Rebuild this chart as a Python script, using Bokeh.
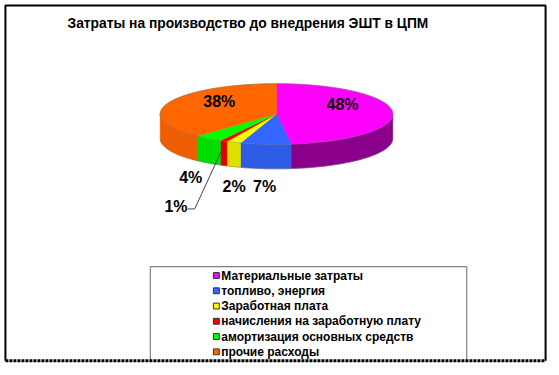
import numpy as np
from bokeh.plotting import figure
from bokeh.models import Range1d
from bokeh.core.properties import value
from bokeh.embed import file_html
from bokeh.resources import INLINE

# ---- data ----
title = "Затраты на производство до внедрения ЭШТ в ЦПМ"
categories = [
    "Материальные затраты",
    "топливо, энергия",
    "Заработная плата",
    "начисления на заработную плату",
    "амортизация основных средств",
    "прочие расходы",
]
shares = [48, 7, 2, 1, 4, 38]
labels = ["48%", "7%", "2%", "1%", "4%", "38%"]

# ---- styles ----
top_colors = ["#FF00FF", "#3366FF", "#FFFF00", "#FF0000", "#00FF00", "#FF6600"]
side_colors = ["#8A008A", "#2E5CE6", "#E0E000", "#E00000", "#00DD00", "#EE5E00"]
FONT = value("Liberation Sans")

# layout (reference pixel space 559x375)
CX, CY, RX, RY, DEPTH = 280, 116, 118, 31, 25
START = 90.0
label_pos = [(347, 106), (268, 190), (237, 190), (178, 210), (193, 181), (222, 103)]

p = figure(width=551, height=367, output_backend="svg", toolbar_location=None,
           x_range=Range1d(0, 559), y_range=Range1d(375, 0),
           min_border=0, outline_line_color=None, background_fill_color="white")
p.axis.visible = False
p.grid.visible = False


def ell(theta_deg, dy=0.0):
    t = np.radians(theta_deg)
    return CX + RX * np.cos(t), CY - RY * np.sin(t) + dy


# angles
total = float(sum(shares))
bounds = []
a = START
for s in shares:
    b = a - 360.0 * s / total
    bounds.append((a, b))
    a = b

# sides (front half: angles in [-180, 0])
sx, sy, sc = [], [], []
for (a0, a1), col in zip(bounds, side_colors):
    lo, hi = max(a1, -180.0), min(a0, 0.0)
    if hi <= lo:
        continue
    th = np.linspace(hi, lo, 60)
    x1, y1 = ell(th)
    x2, y2 = ell(th[::-1], DEPTH)
    sx.append(list(np.concatenate([x1, x2])))
    sy.append(list(np.concatenate([y1, y2])))
    sc.append(col)
p.patches(sx, sy, fill_color=sc, line_color=sc, line_width=0.5)

# outline of the side bottom
thb = np.linspace(-180, 0, 120)
bx, by = ell(thb, DEPTH)
p.line(bx, by, line_color="#777777", line_width=0.8, line_alpha=0.6)

# tops
tx, ty, tc = [], [], []
for (a0, a1), col in zip(bounds, top_colors):
    th = np.linspace(a0, a1, max(3, int(abs(a0 - a1)) + 2))
    x, y = ell(th)
    tx.append([CX] + list(x))
    ty.append([CY] + list(y))
    tc.append(col)
p.patches(tx, ty, fill_color=tc, line_color=tc, line_width=0.5)
ex, ey = ell(np.linspace(0, 360, 240))
p.line(ex, ey, line_color="#777777", line_width=0.8, line_alpha=0.6)

# data labels
p.text(x=[q[0] for q in label_pos], y=[q[1] for q in label_pos], text=labels,
       text_font=FONT, text_font_style="bold", text_font_size="16px",
       text_align="center", text_baseline="middle", text_color="black")

# leader line for the 1% slice
mid = (bounds[3][0] + bounds[3][1]) / 2
lx, ly = ell(mid, DEPTH * 0.2)
p.line([190, 197, lx], [213, 213, ly], line_color="#444444", line_width=1)

# title
p.text(x=[68], y=[23], text=[title], text_font=FONT, text_font_style="bold",
       text_font_size="13.8px", text_align="left", text_baseline="middle",
       text_color="black")

# legend box
p.line([152, 152, 473, 473], [369, 272, 272, 369], line_color="#808080", line_width=1.2)
rows = [281 + i * 15.6 for i in range(len(categories))]
p.rect(x=[219] * len(categories), y=rows, width=6, height=6,
       fill_color=top_colors, line_color="#333333", line_width=1)
p.text(x=[224] * len(categories), y=rows, text=categories, text_font=FONT,
       text_font_style="bold", text_font_size="12px", text_align="left",
       text_baseline="middle", text_color="black")

# blank strip at bottom and frame
p.quad(left=0, right=559, bottom=375, top=369, fill_color="white", line_color=None)
p.line([5, 5, 553, 553], [368, 5, 5, 368], line_color="black", line_width=2)
p.line([5, 553], [368, 368], line_color="black", line_width=3, line_dash="3 1")

open("out.html", "w").write(file_html(p, INLINE))
